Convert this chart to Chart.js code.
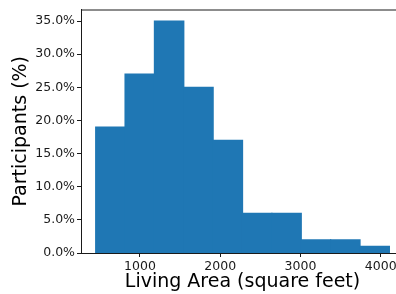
<!DOCTYPE html>
<html>
<head>
<meta charset="utf-8">
<script src="https://cdn.jsdelivr.net/npm/chart.js@4"></script>
<style>
    html, body { margin: 0; padding: 0; background: #fff; overflow: hidden; }
    #wrap { width: 404px; height: 294px; }
</style>
</head>
<body>
<div id="wrap"><canvas id="chart" width="404" height="294"></canvas></div>
<script>
// bin edges (square feet) and share of participants per bin (%)
const binEdges = [448, 814, 1180, 1546, 1912, 2278, 2644, 3010, 3376, 3742, 4108];
const percents = [19, 27, 35, 25, 17, 6, 6, 2, 2, 1];
const xTicks = [1000, 2000, 3000, 4000];
const yTicks = [0, 5, 10, 15, 20, 25, 30, 35];

const font_family = 'DejaVu Sans';
const ink = '#1a1a1a';

let points = [];
for (let i = 0; i < percents.length; i++) {
    points.push({x: (binEdges[i] + binEdges[i + 1]) / 2, y: percents[i]});
}

// matplotlib draws the top spine too
const topSpine = {
    id: 'topSpine',
    afterDraw(chart) {
        const ctx = chart.ctx;
        const area = chart.chartArea;
        ctx.save();
        ctx.strokeStyle = ink;
        ctx.lineWidth = 1;
        ctx.beginPath();
        ctx.moveTo(area.left, area.top + 0.5);
        ctx.lineTo(area.right, area.top + 0.5);
        ctx.stroke();
        ctx.restore();
    }
};

let config = {
    type: 'bar',
    data: {
        datasets: [{
            data: points,
            backgroundColor: '#1f77b4',
            borderWidth: 0,
            inflateAmount: 0.6,
            barPercentage: 1,
            categoryPercentage: 1
        }]
    },
    options: {
        responsive: false,
        animation: false,
        layout: {padding: 0},
        plugins: {
            legend: {display: false},
            tooltip: {enabled: false}
        },
        scales: {
            x: {
                type: 'linear',
                offset: false,
                min: 265,
                max: 4290,
                afterFit: scale => { scale.height = 41; },
                afterBuildTicks: scale => { scale.ticks = xTicks.map(v => ({value: v})); },
                border: {display: true, color: ink, width: 1},
                grid: {offset: false, drawOnChartArea: false, drawTicks: true, tickLength: 4, color: ink},
                ticks: {
                    color: ink,
                    padding: 2,
                    maxRotation: 0,
                    font: {family: font_family, size: 12.5},
                    callback: v => String(v)
                },
                title: {
                    display: true,
                    text: 'Living Area (square feet)',
                    color: '#000',
                    padding: {top: 0, bottom: 1},
                    font: {family: font_family, size: 19}
                }
            },
            y: {
                min: 0,
                max: 36.75,
                afterFit: scale => { scale.width = 81; },
                afterBuildTicks: scale => { scale.ticks = yTicks.map(v => ({value: v})); },
                border: {display: true, color: ink, width: 1},
                grid: {drawOnChartArea: false, drawTicks: true, tickLength: 4, color: ink},
                ticks: {
                    color: ink,
                    padding: 2,
                    font: {family: font_family, size: 12.5},
                    callback: v => v.toFixed(1) + '%'
                },
                title: {
                    display: true,
                    text: 'Participants (%)',
                    color: '#000',
                    padding: {top: 10, bottom: 0},
                    font: {family: font_family, size: 19}
                }
            }
        }
    },
    plugins: [topSpine]
};

let chart = new Chart(document.getElementById('chart'), config);
</script>
</body>
</html>
